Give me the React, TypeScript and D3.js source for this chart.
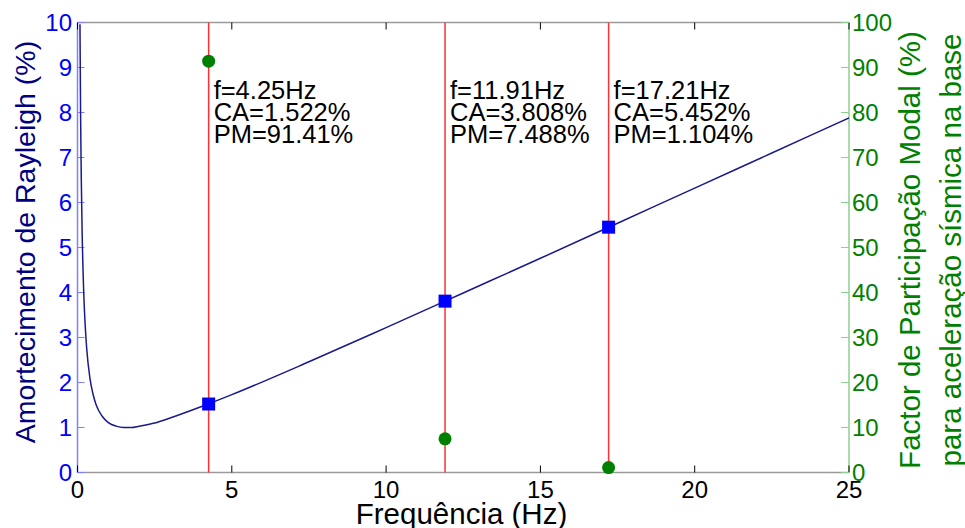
import React from "react";
import * as d3 from "d3";

// Rayleigh damping curve (frequency Hz, damping %)
const curveFreq = [0.08, 0.1, 0.12, 0.15, 0.2, 0.25, 0.3, 0.4, 0.5, 0.6, 0.8, 1.0, 1.25, 1.5, 1.75, 2, 2.5, 3, 4, 5, 7.5, 10, 12.5, 15, 17.5, 20, 22.5, 25];
const curveDamp = [9.96, 7.98, 6.66, 5.35, 4.04, 3.26, 2.74, 2.11, 1.75, 1.51, 1.25, 1.11, 1.03, 1.0, 1.0, 1.03, 1.1, 1.21, 1.46, 1.73, 2.46, 3.22, 3.99, 4.76, 5.54, 6.32, 7.1, 7.88];

// Modes
const modeFreq = [4.25, 11.91, 17.21];
const modeCA = [1.522, 3.808, 5.452];
const modePM = [91.41, 7.488, 1.104];
const modeFreqLabel = ["4.25", "11.91", "17.21"];
const modeCALabel = ["1.522", "3.808", "5.452"];
const modePMLabel = ["91.41", "7.488", "1.104"];

const xTicks = [0, 5, 10, 15, 20, 25];
const yLeftTicks = [0, 1, 2, 3, 4, 5, 6, 7, 8, 9, 10];
const yRightTicks = [0, 10, 20, 30, 40, 50, 60, 70, 80, 90, 100];

const W = 965;
const H = 528;
const L = 77.5, R = 849, T = 22.5, B = 472.5;
const FONT = "'Liberation Sans', Arial, sans-serif";

export default function App() {
  const x = d3.scaleLinear().domain([0, 25]).range([L, R]);
  const yL = d3.scaleLinear().domain([0, 10]).range([B, T]);
  const yR = d3.scaleLinear().domain([0, 100]).range([B, T]);

  const pts: [number, number][] = curveFreq.map((f, i) => [f, curveDamp[i]]);
  const line = d3
    .line<[number, number]>()
    .x((d) => x(d[0]))
    .y((d) => yL(d[1]))
    .curve(d3.curveMonotoneX);

  return (
    <svg
      width={W}
      height={H}
      style={{ position: "absolute", left: 0, top: 0, background: "#fff" }}
      fontFamily={FONT}
    >
      <defs>
        <clipPath id="plotclip">
          <rect x={L} y={T - 1} width={R - L} height={B - T + 2} />
        </clipPath>
      </defs>
      <rect x={0} y={0} width={W} height={H} fill="#fff" />

      {/* frame */}
      <line x1={L} x2={R} y1={T} y2={T} stroke="#9a9a9a" strokeWidth={1.5} />
      <line x1={L} x2={R} y1={B} y2={B} stroke="#9a9a9a" strokeWidth={1.5} />
      <line x1={L} x2={L} y1={T} y2={B} stroke="#7f7fff" strokeWidth={1.5} />
      <line x1={R} x2={R} y1={T} y2={B} stroke="#8fcf8f" strokeWidth={1.5} />

      {/* x ticks */}
      {xTicks.map((t) => (
        <g key={"x" + t}>
          <line x1={x(t)} x2={x(t)} y1={B} y2={B - 7} stroke="#000" strokeWidth={1} />
          <line x1={x(t)} x2={x(t)} y1={T} y2={T + 7} stroke="#000" strokeWidth={1} />
          <text x={x(t)} y={498} fontSize={24} textAnchor="middle" fill="#000">
            {t}
          </text>
        </g>
      ))}

      {/* left ticks */}
      {yLeftTicks.map((t) => (
        <g key={"yl" + t}>
          <line x1={L} x2={L + 7} y1={yL(t)} y2={yL(t)} stroke="#7f7fff" strokeWidth={1} />
          <text x={72} y={yL(t) + 8.6} fontSize={24} textAnchor="end" fill="#0000ff">
            {t}
          </text>
        </g>
      ))}

      {/* right ticks */}
      {yRightTicks.map((t) => (
        <g key={"yr" + t}>
          <line x1={R} x2={R - 8} y1={yR(t)} y2={yR(t)} stroke="#8fcf8f" strokeWidth={1} />
          <text x={852} y={yR(t) + 8.6} fontSize={24} textAnchor="start" fill="#008000">
            {t}
          </text>
        </g>
      ))}

      {/* red mode lines */}
      {modeFreq.map((f, i) => (
        <line key={"m" + i} x1={x(f)} x2={x(f)} y1={T} y2={B} stroke="#ff3030" strokeWidth={1.5} />
      ))}

      {/* curve */}
      <path d={line(pts) || ""} fill="none" stroke="#1a1a8c" strokeWidth={1.5} clipPath="url(#plotclip)" />

      {/* squares */}
      {modeFreq.map((f, i) => (
        <rect key={"s" + i} x={x(f) - 6.5} y={yL(modeCA[i]) - 6.5} width={13} height={13} fill="#0000ff" />
      ))}

      {/* circles */}
      {modeFreq.map((f, i) => (
        <circle key={"c" + i} cx={x(f)} cy={yR(modePM[i])} r={6.5} fill="#008000" />
      ))}

      {/* annotations */}
      {modeFreq.map((f, i) => (
        <text key={"a" + i} fontSize={25.5} fill="#000">
          <tspan x={x(f) + 5} y={98.5}>{`f=${modeFreqLabel[i]}Hz`}</tspan>
          <tspan x={x(f) + 5} y={120.5}>{`CA=${modeCALabel[i]}%`}</tspan>
          <tspan x={x(f) + 5} y={142.5}>{`PM=${modePMLabel[i]}%`}</tspan>
        </text>
      ))}

      {/* axis titles */}
      <text x={461.5} y={524} fontSize={29.5} textAnchor="middle" fill="#000">
        Frequência (Hz)
      </text>
      <text
        transform={`translate(35,242) rotate(-90)`}
        fontSize={28.5}
        textAnchor="middle"
        fill="#000080"
      >
        Amortecimento de Rayleigh (%)
      </text>
      <text
        transform={`translate(920,250) rotate(-90)`}
        fontSize={29.5}
        textAnchor="middle"
        fill="#008000"
      >
        Factor de Participação Modal (%)
      </text>
      <text
        transform={`translate(961,250) rotate(-90)`}
        fontSize={29.5}
        textAnchor="middle"
        fill="#008000"
      >
        para aceleração sísmica na base
      </text>
    </svg>
  );
}
